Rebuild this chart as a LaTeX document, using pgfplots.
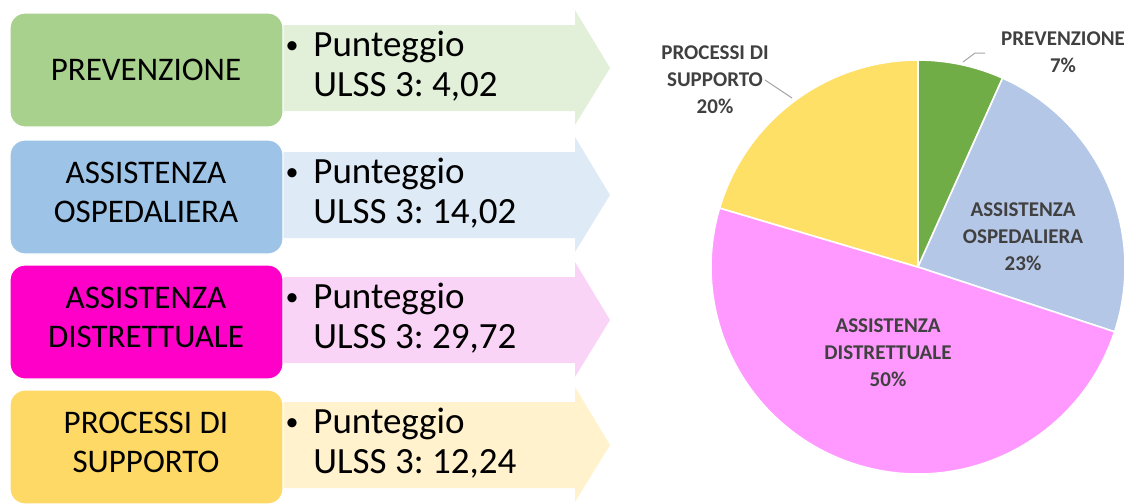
\documentclass[border=0pt]{standalone}
\usepackage{fontspec}
\setmainfont{Carlito}
\usepackage{pgfplots}
\usepackage{pgfplotstable}
\pgfplotsset{compat=1.18}

\definecolor{boxA}{HTML}{A9D18E}
\definecolor{arrA}{HTML}{E2F0D9}
\definecolor{boxB}{HTML}{9DC3E6}
\definecolor{arrB}{HTML}{DEEBF7}
\definecolor{boxC}{HTML}{FF00C8}
\definecolor{arrC}{HTML}{FAD4F7}
\definecolor{boxD}{HTML}{FFD966}
\definecolor{arrD}{HTML}{FFF2CC}
\definecolor{pieA}{HTML}{70AD47}
\definecolor{pieB}{HTML}{B4C7E7}
\definecolor{pieC}{HTML}{FF99FF}
\definecolor{pieD}{HTML}{FFE066}
\definecolor{lbl}{HTML}{404040}
\definecolor{leader}{HTML}{A6A6A6}

% ULSS 3 scores per area
\pgfplotstableread{
area score
PREV 4.02
OSP 14.02
DIST 29.72
SUPP 12.24
}\scores

\newcommand\boxfont{\fontsize{16.5}{19.5}\selectfont}
\newcommand\scorefont{\fontsize{18.5}{20}\selectfont}
\newcommand\piefont{\fontsize{10.5}{13.5}\selectfont\bfseries}

% arrow + rounded box, #1 = top edge (px)
\newcommand\rowshape[3]{%
  \fill[#3] (250,#1+12) -- (575,#1+12) -- (575,#1-3) -- (610,#1+55)
    -- (575,#1+112) -- (575,#1+98) -- (250,#1+98) -- cycle;
  \filldraw[fill=#2, draw=white, line width=0.6pt, rounded corners=7.5pt]
    (10,#1) rectangle (283,#1+114);
}
\newcommand\scoretext[2]{%
  \node[anchor=base, inner sep=0pt, font=\fontsize{13}{13}\selectfont] at (292,#1+40) {\textbullet};
  \node[anchor=base west, inner sep=0pt, font=\scorefont] at (313,#1+43) {Punteggio};
  \node[anchor=base west, inner sep=0pt, font=\scorefont] at (313,#1+83) {ULSS 3: #2};
}

\begin{document}
\frenchspacing
\begin{tikzpicture}[x=0.5pt,y=-0.5pt]
\useasboundingbox (0,0) rectangle (1127,503);

\rowshape{13}{boxA}{arrA}
\rowshape{140}{boxB}{arrB}
\rowshape{265}{boxC}{arrC}
\rowshape{390}{boxD}{arrD}

\node[font=\boxfont] at (146,70) {PREVENZIONE};
\node[font=\boxfont, align=center] at (146,192) {ASSISTENZA\\OSPEDALIERA};
\node[font=\boxfont, align=center] at (146,317) {ASSISTENZA\\DISTRETTUALE};
\node[font=\boxfont, align=center] at (146,442) {PROCESSI DI\\SUPPORTO};

\scoretext{13}{4,02}
\scoretext{140}{14,02}
\scoretext{265}{29,72}
\scoretext{390}{12,24}

% slice angles from the scores, clockwise from 12 o'clock
\pgfplotstablegetelem{0}{score}\of\scores \pgfmathsetmacro\sA{\pgfplotsretval}
\pgfplotstablegetelem{1}{score}\of\scores \pgfmathsetmacro\sB{\pgfplotsretval}
\pgfplotstablegetelem{2}{score}\of\scores \pgfmathsetmacro\sC{\pgfplotsretval}
\pgfplotstablegetelem{3}{score}\of\scores \pgfmathsetmacro\sD{\pgfplotsretval}
\pgfmathsetmacro\tot{\sA+\sB+\sC+\sD}
\pgfmathsetmacro\aO{90}
\pgfmathsetmacro\aA{\aO-360*\sA/\tot}
\pgfmathsetmacro\aB{\aA-360*\sB/\tot}
\pgfmathsetmacro\aC{\aB-360*\sC/\tot}
\pgfmathsetmacro\aD{\aC-360*\sD/\tot}

\begin{axis}[
  at={(459pt,-133.5pt)}, anchor=center,
  width=207pt, height=207pt, scale only axis,
  xmin=-1, xmax=1, ymin=-1, ymax=1,
  hide axis, clip=false,
]
\filldraw[fill=pieA, draw=white, line width=0.8pt] (axis cs:0,0) -- (axis cs:{cos(\aO)},{sin(\aO)})
  arc[start angle=\aO, end angle=\aA, radius=103.5pt] -- cycle;
\filldraw[fill=pieB, draw=white, line width=0.8pt] (axis cs:0,0) -- (axis cs:{cos(\aA)},{sin(\aA)})
  arc[start angle=\aA, end angle=\aB, radius=103.5pt] -- cycle;
\filldraw[fill=pieC, draw=white, line width=0.8pt] (axis cs:0,0) -- (axis cs:{cos(\aB)},{sin(\aB)})
  arc[start angle=\aB, end angle=\aC, radius=103.5pt] -- cycle;
\filldraw[fill=pieD, draw=white, line width=0.8pt] (axis cs:0,0) -- (axis cs:{cos(\aC)},{sin(\aC)})
  arc[start angle=\aC, end angle=\aD, radius=103.5pt] -- cycle;
\end{axis}

% data labels
\draw[leader, line width=0.5pt] (985,53) -- (975,53) -- (963,62);
\draw[leader, line width=0.5pt] (765,80) -- (792,98);
\node[font=\piefont, text=lbl, align=center] at (1063,52) {PREVENZIONE\\7\%};
\node[font=\piefont, text=lbl, align=center] at (715,80) {PROCESSI DI\\SUPPORTO\\20\%};
\node[font=\piefont, text=lbl, align=center] at (1023,237) {ASSISTENZA\\OSPEDALIERA\\23\%};
\node[font=\piefont, text=lbl, align=center] at (888,353) {ASSISTENZA\\DISTRETTUALE\\50\%};
\end{tikzpicture}
\end{document}
